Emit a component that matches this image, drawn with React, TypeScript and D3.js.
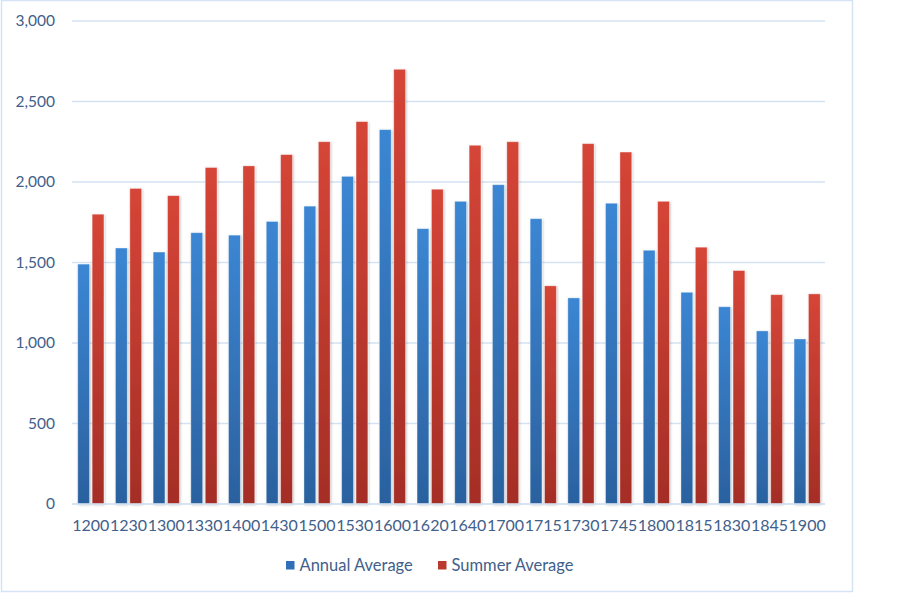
import React, { useRef, useEffect } from 'react';
import * as d3 from 'd3';

// chart data
const times = ['1200', '1230', '1300', '1330', '1400', '1430', '1500', '1530', '1600', '1620',
    '1640', '1700', '1715', '1730', '1745', '1800', '1815', '1830', '1845', '1900'];
const annualAverage = [1490, 1590, 1565, 1685, 1670, 1755, 1850, 2035, 2325, 1710,
    1880, 1983, 1772, 1280, 1868, 1576, 1315, 1225, 1075, 1025];
const summerAverage = [1800, 1960, 1915, 2090, 2100, 2170, 2250, 2375, 2700, 1955,
    2228, 2250, 1355, 2238, 2186, 1880, 1595, 1450, 1300, 1305];
const seriesNames = ['Annual Average', 'Summer Average'];
const yTicks = [0, 500, 1000, 1500, 2000, 2500, 3000];

const App = () => {
    const svgRef = useRef(null);

    useEffect(() => {
        const width = 900;
        const height = 595;
        const margin = { top: 21, right: 74, bottom: 91, left: 72 };
        const textColor = '#41608a';
        const font = 'Lato, "Open Sans", sans-serif';

        const svg = d3.select(svgRef.current)
            .attr('width', width)
            .attr('height', height);

        const defs = svg.append('defs');
        const gradients = [
            { id: 'gradA', top: '#3b86d3', bottom: '#2b619f' },
            { id: 'gradS', top: '#d54537', bottom: '#a42e26' }
        ];
        gradients.forEach(g => {
            const lg = defs.append('linearGradient')
                .attr('id', g.id)
                .attr('gradientUnits', 'objectBoundingBox')
                .attr('x1', 0).attr('y1', 0).attr('x2', 0).attr('y2', 1);
            lg.append('stop').attr('offset', '0%').attr('stop-color', g.top);
            lg.append('stop').attr('offset', '100%').attr('stop-color', g.bottom);
        });
        const shadow = defs.append('filter').attr('id', 'barShadow')
            .attr('x', '-30%').attr('y', '-5%').attr('width', '160%').attr('height', '110%');
        shadow.append('feDropShadow')
            .attr('dx', 0.8).attr('dy', 0.8).attr('stdDeviation', 0.9)
            .attr('flood-color', '#000').attr('flood-opacity', 0.25);

        // chart border
        svg.append('rect')
            .attr('x', 1.5).attr('y', 0.5)
            .attr('width', 851).attr('height', 591)
            .attr('fill', 'white')
            .attr('stroke', '#d6e3f4')
            .attr('stroke-width', 1.5);

        const x0 = d3.scaleBand()
            .domain(times)
            .range([margin.left, width - margin.right])
            .padding(0);

        const x1 = d3.scaleBand()
            .domain(seriesNames)
            .range([0, x0.bandwidth()])
            .paddingInner(0.18)
            .paddingOuter(0.4);

        const y = d3.scaleLinear()
            .domain([0, 3000])
            .range([height - margin.bottom, margin.top]);

        // gridlines
        svg.append('g')
            .selectAll('line')
            .data(yTicks)
            .enter().append('line')
            .attr('x1', margin.left)
            .attr('x2', width - margin.right - 1)
            .attr('y1', d => y(d))
            .attr('y2', d => y(d))
            .attr('stroke', '#d5e2f2')
            .attr('stroke-width', 1.5);

        // y tick labels
        svg.append('g')
            .selectAll('text')
            .data(yTicks)
            .enter().append('text')
            .attr('x', 55)
            .attr('y', d => y(d))
            .attr('dy', '0.35em')
            .attr('text-anchor', 'end')
            .attr('font-family', font)
            .attr('font-size', 15.5)
            .attr('fill', textColor)
            .text(d => d3.format(',')(d));

        // bars
        const rows = times.map((t, i) => ({ t, values: [annualAverage[i], summerAverage[i]] }));
        const groups = svg.append('g')
            .selectAll('g')
            .data(rows)
            .enter().append('g')
            .attr('transform', d => `translate(${x0(d.t)},0)`);

        groups.selectAll('rect')
            .data(d => d.values.map((v, k) => ({ key: seriesNames[k], v, k })))
            .enter().append('rect')
            .attr('x', d => x1(d.key))
            .attr('y', d => y(d.v))
            .attr('width', x1.bandwidth())
            .attr('height', d => y(0) - y(d.v))
            .attr('fill', d => d.k === 0 ? 'url(#gradA)' : 'url(#gradS)')
            .attr('stroke', 'rgba(255,255,255,0.45)')
            .attr('stroke-width', 0.8)
            .attr('filter', 'url(#barShadow)');

        // x axis baseline
        svg.append('line')
            .attr('x1', margin.left)
            .attr('x2', width - margin.right - 1)
            .attr('y1', y(0))
            .attr('y2', y(0))
            .attr('stroke', '#d5e2f2')
            .attr('stroke-width', 1.5);

        // x labels
        svg.append('g')
            .selectAll('text')
            .data(times)
            .enter().append('text')
            .attr('x', d => x0(d) + x0.bandwidth() / 2)
            .attr('y', 531)
            .attr('text-anchor', 'middle')
            .attr('font-family', font)
            .attr('font-size', 16)
            .attr('fill', textColor)
            .text(d => d);

        // legend
        const legendItems = [
            { name: seriesNames[0], color: '#2f6fb8', x: 286 },
            { name: seriesNames[1], color: '#bb3a2f', x: 438 }
        ];
        const legend = svg.append('g')
            .selectAll('g')
            .data(legendItems)
            .enter().append('g')
            .attr('transform', d => `translate(${d.x},0)`);

        legend.append('rect')
            .attr('x', 0)
            .attr('y', 561)
            .attr('width', 8.5)
            .attr('height', 8.5)
            .attr('fill', d => d.color);

        legend.append('text')
            .attr('x', 13.5)
            .attr('y', 571)
            .attr('font-family', font)
            .attr('font-size', 16.5)
            .attr('fill', textColor)
            .text(d => d.name);

        return () => {
            d3.select(svgRef.current).selectAll('*').remove();
        };
    }, []);

    return (
        <svg ref={svgRef} style={{ position: 'absolute', left: 0, top: 0 }}></svg>
    );
};

export default App;
